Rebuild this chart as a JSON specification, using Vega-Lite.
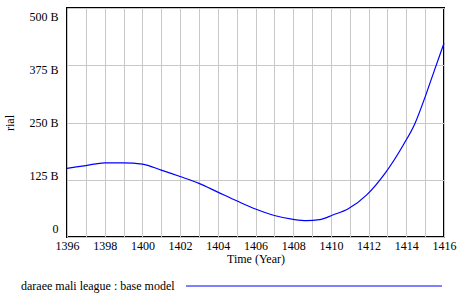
{
  "$schema": "https://vega.github.io/schema/vega-lite/v6.json",
  "width": 377,
  "height": 229,
  "autosize": {"type": "none"},
  "padding": {"left": 67, "top": 8, "right": 13, "bottom": 59},
  "background": "white",
  "config": {
    "font": "Liberation Serif",
    "view": {"stroke": "black", "strokeWidth": 2},
    "axis": {
      "labelFont": "Liberation Serif",
      "titleFont": "Liberation Serif",
      "labelFontSize": 12,
      "titleFontSize": 12,
      "titleFontWeight": "normal",
      "labelColor": "black",
      "titleColor": "black",
      "gridColor": "#c8c8c8",
      "gridOpacity": 1,
      "gridWidth": 1,
      "domain": false,
      "ticks": false
    },
    "legend": {
      "titleFont": "Liberation Serif",
      "labelFont": "Liberation Serif"
    }
  },
  "data": {
    "values": [
      {"year": 1396.0, "value": 150, "series": "base model"},
      {"year": 1397.0, "value": 156, "series": "base model"},
      {"year": 1398.0, "value": 162, "series": "base model"},
      {"year": 1399.0, "value": 162, "series": "base model"},
      {"year": 1400.0, "value": 159, "series": "base model"},
      {"year": 1401.0, "value": 146, "series": "base model"},
      {"year": 1402.0, "value": 132, "series": "base model"},
      {"year": 1403.0, "value": 117, "series": "base model"},
      {"year": 1404.0, "value": 98, "series": "base model"},
      {"year": 1405.0, "value": 79, "series": "base model"},
      {"year": 1406.0, "value": 61, "series": "base model"},
      {"year": 1407.0, "value": 47, "series": "base model"},
      {"year": 1408.0, "value": 38.6, "series": "base model"},
      {"year": 1408.7, "value": 35.6, "series": "base model"},
      {"year": 1409.4, "value": 37.8, "series": "base model"},
      {"year": 1410.1, "value": 48, "series": "base model"},
      {"year": 1410.9, "value": 61, "series": "base model"},
      {"year": 1411.9, "value": 92, "series": "base model"},
      {"year": 1412.87, "value": 139, "series": "base model"},
      {"year": 1413.84, "value": 201, "series": "base model"},
      {"year": 1414.46, "value": 248, "series": "base model"},
      {"year": 1415.0, "value": 306, "series": "base model"},
      {"year": 1415.5, "value": 365, "series": "base model"},
      {"year": 1416.0, "value": 423, "series": "base model"}
    ]
  },
  "mark": {"type": "line", "interpolate": "monotone", "strokeWidth": 1.2},
  "encoding": {
    "x": {
      "field": "year",
      "type": "quantitative",
      "scale": {"domain": [1396, 1416], "nice": false, "zero": false},
      "axis": {
        "title": "Time (Year)",
        "labelFont": "Liberation Serif",
        "values": [1396,1397,1398,1399,1400,1401,1402,1403,1404,1405,1406,1407,1408,1409,1410,1411,1412,1413,1414,1415,1416],
        "labelExpr": "datum.value % 2 == 0 ? datum.label : ''",
        "format": "d",
        "labelPadding": 3,
        "titlePadding": 2,
        "labelFlush": false
      }
    },
    "y": {
      "field": "value",
      "type": "quantitative",
      "scale": {"domain": [0, 500], "nice": false},
      "axis": {
        "title": "rial",
        "labelFont": "Liberation Serif",
        "values": [0, 125, 250, 375, 500],
        "labelExpr": "datum.value == 0 ? '0' : datum.value + ' B'",
        "labelOffset": {"expr": "(datum.value - 250) * 0.0336"},
        "labelPadding": 9,
        "titlePadding": 12
      }
    },
    "color": {
      "field": "series",
      "type": "nominal",
      "scale": {"range": ["#0000ff"]},
      "legend": {
        "orient": "none",
        "legendX": -46,
        "legendY": 276,
        "title": "daraee mali league : base model",
        "titleOrient": "left",
        "titleFontSize": 12,
        "titleFontWeight": "normal",
        "titleColor": "black",
        "titlePadding": 9,
        "titleBaseline": "middle",
        "symbolType": "M0,0H200",
        "symbolSize": 6.5536,
        "symbolStrokeWidth": 1.2,
        "labelExpr": "''",
        "labelFontSize": 1
      }
    }
  }
}
